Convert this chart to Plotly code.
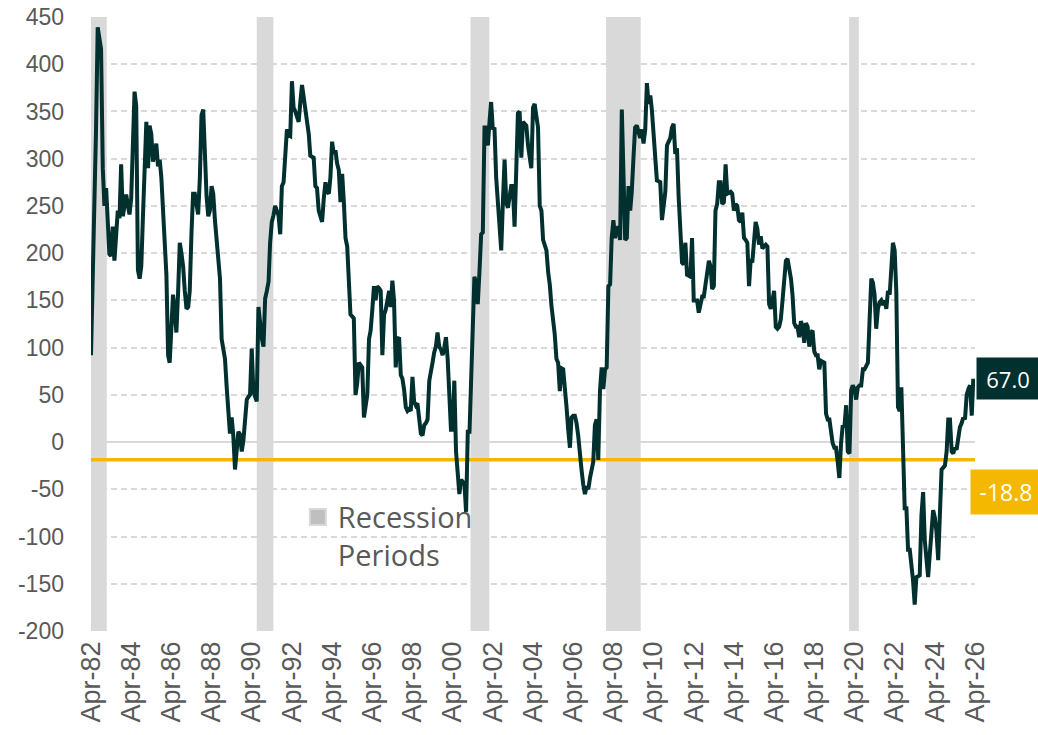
import pandas as pd
import plotly.graph_objects as go

# Monthly spread (bp), starting Apr-1982
spread_values = [
    92, 170, 222, 330, 439, 428, 416, 290, 250, 269, 240, 199,
    197, 228, 192, 215, 245, 237, 294, 239, 250, 262, 250, 241,
    258, 320, 371, 356, 182, 173, 186, 240, 288, 339, 290, 335,
    326, 297, 305, 316, 292, 299, 280, 245, 210, 177, 92, 84,
    120, 156, 140, 116, 158, 211, 200, 186, 160, 141, 143, 160,
    220, 263, 263, 250, 241, 280, 346, 352, 300, 260, 239, 245,
    271, 263, 235, 211, 199, 173, 109, 100, 88, 58, 28, 9,
    26, 7, -29, -12, 11, 8, -10, 2, 25, 45, 48, 50,
    99, 54, 48, 43, 143, 125, 110, 101, 152, 160, 170, 211,
    233, 240, 250, 245, 240, 220, 271, 275, 300, 331, 325, 324,
    382, 354, 350, 345, 339, 360, 378, 365, 352, 335, 326, 303,
    302, 301, 271, 269, 245, 240, 233, 258, 275, 265, 263, 280,
    318, 305, 309, 295, 288, 254, 284, 254, 216, 207, 160, 135,
    133, 131, 50, 62, 84, 82, 79, 26, 40, 50, 109, 118,
    140, 165, 150, 165, 163, 160, 92, 135, 140, 150, 160, 143,
    171, 150, 79, 109, 111, 71, 67, 55, 37, 33, 35, 33,
    69, 43, 39, 41, 20, 9, 7, 18, 20, 24, 65, 77,
    84, 95, 101, 116, 101, 98, 92, 100, 111, 88, 50, 13,
    13, 65, -10, -30, -55, -40, -42, -44, -74, 11, 11, 70,
    135, 175, 169, 146, 180, 220, 222, 333, 333, 314, 340, 360,
    331, 333, 280, 250, 237, 203, 254, 299, 254, 248, 260, 271,
    271, 228, 288, 348, 350, 301, 339, 337, 335, 314, 300, 290,
    354, 358, 345, 333, 250, 245, 214, 208, 203, 180, 166, 145,
    131, 114, 88, 84, 54, 78, 77, 60, 37, 13, -6, 26,
    28, 28, 20, 7, -17, -30, -45, -55, -47, -50, -38, -30,
    -21, 18, 24, -19, 54, 79, 56, 77, 79, 165, 167, 216,
    235, 216, 226, 228, 214, 352, 288, 214, 216, 271, 245, 265,
    301, 333, 335, 330, 322, 331, 316, 331, 380, 358, 367, 352,
    330, 309, 277, 276, 275, 235, 248, 265, 314, 318, 322, 333,
    337, 305, 311, 260, 211, 190, 188, 211, 177, 176, 175, 216,
    150, 150, 150, 137, 145, 154, 154, 167, 180, 192, 186, 162,
    165, 245, 252, 275, 275, 252, 254, 294, 263, 264, 265, 263,
    245, 252, 250, 235, 233, 243, 216, 214, 211, 165, 194, 190,
    207, 233, 226, 209, 218, 205, 207, 209, 207, 146, 141, 152,
    160, 122, 120, 122, 130, 150, 169, 192, 194, 185, 173, 156,
    126, 122, 122, 111, 128, 122, 105, 126, 122, 101, 116, 118,
    96, 92, 92, 77, 86, 85, 84, 30, 24, 24, 10, -1,
    -6, -6, -21, -38, -1, 18, 16, 39, -10, -12, 55, 60,
    56, 45, 58, 60, 60, 77, 77, 80, 84, 130, 173, 169,
    156, 120, 141, 148, 150, 145, 150, 141, 160, 156, 182, 211,
    203, 160, 37, 33, 58, -19, -70, -70, -114, -114, -130, -146,
    -172, -143, -142, -141, -78, -53, -104, -125, -143, -118, -95, -72,
    -80, -95, -125, -87, -29, -27, -25, -10, 24, 24, -10, -12,
    -6, -8, 7, 16, 20, 26, 24, 50, 56, 60, 28, 67,
]
start_month = "1982-04-01"
threshold = -18.8

recession_starts = ["1982-04-01", "1990-07-01", "2001-02-20", "2007-11-20", "2019-12-25"]
recession_ends = ["1983-01-12", "1991-04-30", "2002-01-28", "2009-08-10", "2020-06-18"]

x_range = ["1982-04-01", "2026-04-01"]
y_ticks = list(range(-200, 451, 50))
y_ticktext = [str(v) for v in y_ticks]

dates = pd.date_range(start_month, periods=len(spread_values), freq="MS")

LINE = "#01302f"
YELLOW = "#f5b800"
GREY_TXT = "#595959"
BAND = "#d9d9d9"

fig = go.Figure()

fig.add_trace(go.Scatter(
    x=x_range, y=[threshold, threshold], mode="lines",
    line=dict(color=YELLOW, width=3.5), showlegend=False, hoverinfo="skip",
))
fig.add_trace(go.Scatter(
    x=dates, y=spread_values, mode="lines",
    line=dict(color=LINE, width=4), showlegend=False,
))
fig.add_trace(go.Scatter(
    x=[None], y=[None], mode="markers", name="Recession<br>Periods",
    marker=dict(symbol="square", size=16, color="#bfbfbf",
                line=dict(color="#d9d9d9", width=2)),
))

for s, e in zip(recession_starts, recession_ends):
    fig.add_shape(type="rect", xref="x", yref="paper", x0=s, x1=e, y0=0, y1=1,
                  fillcolor=BAND, line=dict(width=0), layer="between")

fig.add_annotation(
    x=1, xref="paper", y=spread_values[-1], yref="y",
    text=f"{spread_values[-1]:.1f}", showarrow=False,
    xanchor="left", yanchor="middle", xshift=1,
    width=60, height=39, bgcolor=LINE,
    font=dict(family="Open Sans", size=22, color="white"),
)
fig.add_annotation(
    x=1, xref="paper", y=threshold, yref="y",
    text=f"{threshold:.1f}", showarrow=False,
    xanchor="left", yanchor="top", xshift=-5, yshift=-9,
    width=68, height=42, bgcolor=YELLOW,
    font=dict(family="Open Sans", size=23, color="white"),
)

fig.update_layout(
    width=1038, height=735,
    margin=dict(l=91, r=63, t=17, b=104),
    plot_bgcolor="white", paper_bgcolor="white",
    showlegend=True,
    legend=dict(x=0.234, y=0.227, xanchor="left", yanchor="top",
                bgcolor="rgba(0,0,0,0)", valign="top",
                font=dict(family="Open Sans", size=29, color=GREY_TXT)),
)
fig.update_xaxes(
    type="date", range=x_range, automargin=False,
    tick0="1982-04-01", dtick="M24", tickformat="%b-%y", tickangle=-90,
    showgrid=False, zeroline=False, showline=False, ticks="",
    ticklabelstandoff=4,
    tickfont=dict(family="Liberation Sans", size=27, color=GREY_TXT),
)
fig.update_yaxes(
    range=[-200, 450], tickvals=y_ticks, ticktext=y_ticktext, automargin=False,
    showgrid=True, gridcolor="#d9d9d9", gridwidth=1.5, griddash="6px,4px",
    zeroline=True, zerolinecolor="#d9d9d9", zerolinewidth=2,
    showline=False, ticks="", ticklabelstandoff=26,
    tickfont=dict(family="Liberation Sans", size=23, color=GREY_TXT),
)

fig.write_html(
    "out.html",
    config={"displayModeBar": False},
    post_script="document.body.style.margin='0';document.body.style.overflow='hidden';",
)
